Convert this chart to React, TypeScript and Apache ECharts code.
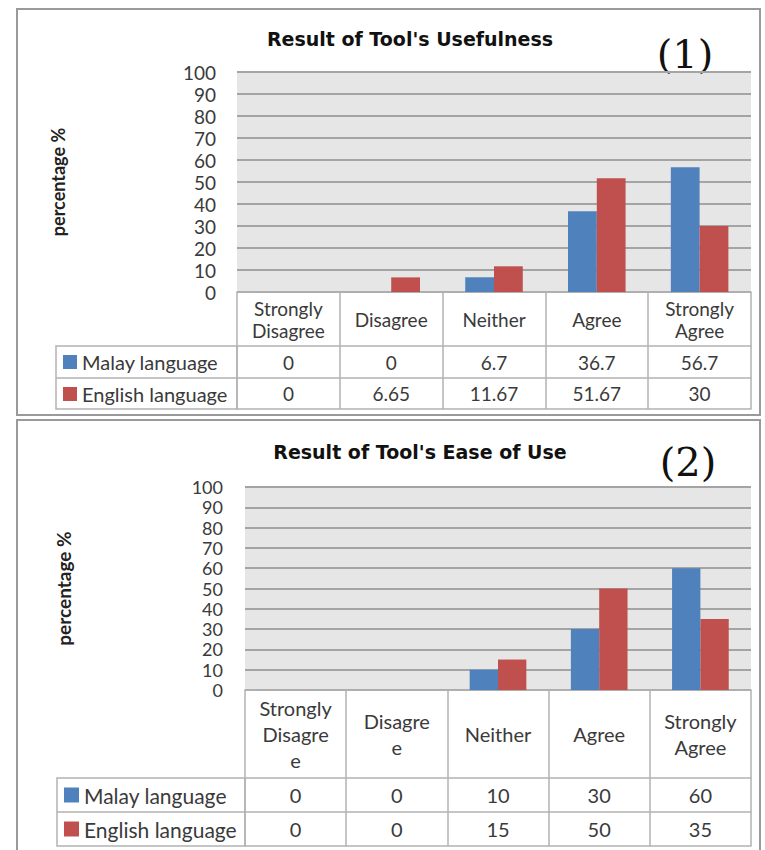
import React, { useEffect, useRef } from "react";
import * as echarts from "echarts";

// ---- data ----
const categories = ["Strongly Disagree", "Disagree", "Neither", "Agree", "Strongly Agree"];
const headerLabels1 = ["Strongly\nDisagree", "Disagree", "Neither", "Agree", "Strongly\nAgree"];
const headerLabels2 = ["Strongly\nDisagre\ne", "Disagre\ne", "Neither", "Agree", "Strongly\nAgree"];
const seriesNames = ["Malay language", "English language"];
const malay1 = [0, 0, 6.7, 36.7, 56.7];
const english1 = [0, 6.65, 11.67, 51.67, 30];
const malay2 = [0, 0, 10, 30, 60];
const english2 = [0, 0, 15, 50, 35];
const titles = ["Result of Tool's Usefulness", "Result of Tool's Ease of Use"];
const panelTags = ["(1)", "(2)"];
const yMin = 0;
const yMax = 100;
const yInterval = 10;

// ---- styles / layout ----
const BLUE = "#4F81BD";
const RED = "#C0504D";
const TEXT = "#3a3a3a";
const LINE = "#b2b2b2";
const FONT = "Lato, 'Noto Sans', sans-serif";

type Layout = {
  top: number; bottom: number; left: number; right: number;
  header: number; row1: number; row2: number; tableLeft: number;
  fontSize: number; lineHeight: number; nameGap: number; labelMargin: number; yFont: number;
  titleX: number; titleY: number; tagX: number; tagY: number;
  boxTop: number; boxHeight: number; square: number; legendFont: number; nameFont: number;
};

const layouts: Layout[] = [
  { top: 72, bottom: 292, left: 237, right: 751, header: 54, row1: 32, row2: 31, tableLeft: 56,
    fontSize: 19, lineHeight: 22, nameGap: 170, labelMargin: 21, yFont: 19,
    titleX: 410, titleY: 39, tagX: 685, tagY: 54, boxTop: 9, boxHeight: 406, square: 14,
    legendFont: 20, nameFont: 18 },
  { top: 487, bottom: 690, left: 245, right: 751, header: 88, row1: 34, row2: 34, tableLeft: 57,
    fontSize: 20, lineHeight: 26, nameGap: 172, labelMargin: 22, yFont: 18,
    titleX: 420, titleY: 452, tagX: 688, tagY: 462, boxTop: 420, boxHeight: 450, square: 15,
    legendFont: 21, nameFont: 19 },
];

const panelData = [
  { malay: malay1, english: english1, headers: headerLabels1 },
  { malay: malay2, english: english2, headers: headerLabels2 },
];

function buildOption() {
  const grid: any[] = [];
  const xAxis: any[] = [];
  const yAxis: any[] = [];
  const series: any[] = [];
  const legend: any[] = [];
  const graphic: any[] = [];

  layouts.forEach((L, p) => {
    const D = panelData[p];
    const tableH = L.header + L.row1 + L.row2;
    const base = p * 4;
    grid.push({
      left: L.left, top: L.top, width: L.right - L.left, height: L.bottom - L.top,
      show: true, backgroundColor: "#e6e6e6", borderWidth: 0, containLabel: false,
    });
    const lineStyle = { color: LINE, width: 1.5 };
    const labelBase = { fontSize: L.fontSize, color: TEXT, fontFamily: FONT };
    // header row (category names) + table verticals
    xAxis.push({
      type: "category", gridIndex: p, data: categories, position: "bottom",
      axisLine: { show: true, lineStyle },
      axisTick: { show: true, length: tableH, interval: 0, lineStyle },
      axisLabel: { ...labelBase, interval: 0, margin: L.header / 2, verticalAlign: "middle",
        lineHeight: L.lineHeight, formatter: (_v: string, i: number) => D.headers[i] },
      splitLine: { show: false },
    });
    // Malay row
    xAxis.push({
      type: "category", gridIndex: p, data: categories, position: "bottom", offset: L.header,
      axisLine: { show: true, lineStyle }, axisTick: { show: false },
      axisLabel: { ...labelBase, interval: 0, margin: L.row1 / 2, verticalAlign: "middle",
        formatter: (_v: string, i: number) => String(D.malay[i]) },
    });
    // English row
    xAxis.push({
      type: "category", gridIndex: p, data: categories, position: "bottom", offset: L.header + L.row1,
      axisLine: { show: true, lineStyle }, axisTick: { show: false },
      axisLabel: { ...labelBase, interval: 0, margin: L.row2 / 2, verticalAlign: "middle",
        formatter: (_v: string, i: number) => String(D.english[i]) },
    });
    // bottom table border
    xAxis.push({
      type: "category", gridIndex: p, data: categories, position: "bottom", offset: tableH,
      axisLine: { show: true, lineStyle }, axisTick: { show: false }, axisLabel: { show: false },
    });
    yAxis.push({
      type: "value", gridIndex: p, min: yMin, max: yMax, interval: yInterval,
      axisLine: { show: false }, axisTick: { show: false },
      axisLabel: { fontSize: L.yFont, lineHeight: L.yFont, color: TEXT, fontFamily: FONT, margin: L.labelMargin },
      splitLine: { show: true, lineStyle: { color: "#a4a4a4", width: 2 } },
      name: "percentage %", nameLocation: "middle", nameRotate: 90, nameGap: L.nameGap,
      nameTextStyle: { fontWeight: "bold", fontSize: L.nameFont, color: "#222", fontFamily: FONT },
    });
    series.push({
      type: "bar", name: seriesNames[0], xAxisIndex: base, yAxisIndex: p, data: D.malay,
      itemStyle: { color: BLUE }, barGap: "0%", barCategoryGap: "44%",
    });
    series.push({
      type: "bar", name: seriesNames[1], xAxisIndex: base, yAxisIndex: p, data: D.english,
      itemStyle: { color: RED }, barGap: "0%", barCategoryGap: "44%",
    });
    const rowTop = L.bottom + L.header;
    legend.push({
      orient: "vertical", left: L.tableLeft + 7, top: rowTop + L.row1 / 2 - L.legendFont / 2,
      padding: 0, itemWidth: L.square, itemHeight: L.square, itemGap: L.row1 - L.legendFont,
      icon: "rect", selectedMode: false, data: seriesNames,
      textStyle: { fontSize: L.legendFont, lineHeight: L.legendFont, color: TEXT, fontFamily: FONT },
    });
    // legend cell borders
    graphic.push({
      type: "rect", silent: true,
      shape: { x: L.tableLeft, y: rowTop, width: L.left - L.tableLeft, height: L.row1 + L.row2 },
      style: { fill: "none", stroke: LINE, lineWidth: 1.5 },
    });
    graphic.push({
      type: "line", silent: true,
      shape: { x1: L.tableLeft, y1: rowTop + L.row1, x2: L.left, y2: rowTop + L.row1 },
      style: { stroke: LINE, lineWidth: 1.5 },
    });
    // panel frame
    graphic.push({
      type: "rect", silent: true, z: -1,
      shape: { x: 17, y: L.boxTop, width: 743, height: L.boxHeight },
      style: { fill: "none", stroke: "#9a9a9a", lineWidth: 2 },
    });
    // title
    graphic.push({
      type: "text", x: L.titleX, y: L.titleY,
      style: { text: titles[p], fill: "#111", font: "bold 19px 'DejaVu Sans', sans-serif",
        align: "center", verticalAlign: "middle" },
    });
    // panel tag
    graphic.push({
      type: "text", x: L.tagX, y: L.tagY,
      style: { text: panelTags[p], fill: "#111", font: "40px 'DejaVu Serif', serif",
        align: "center", verticalAlign: "middle" },
    });
  });

  return {
    animation: false,
    backgroundColor: "#ffffff",
    grid, xAxis, yAxis, series, legend, graphic,
  };
}

export default function App() {
  const ref = useRef<HTMLDivElement>(null);
  useEffect(() => {
    if (!ref.current) return;
    const chart = echarts.init(ref.current, undefined, { renderer: "svg" });
    chart.setOption(buildOption() as any);
    return () => chart.dispose();
  }, []);
  return (
    <div
      ref={ref}
      style={{ position: "absolute", left: 0, top: 0, width: 765, height: 850, background: "#fff" }}
    />
  );
}
